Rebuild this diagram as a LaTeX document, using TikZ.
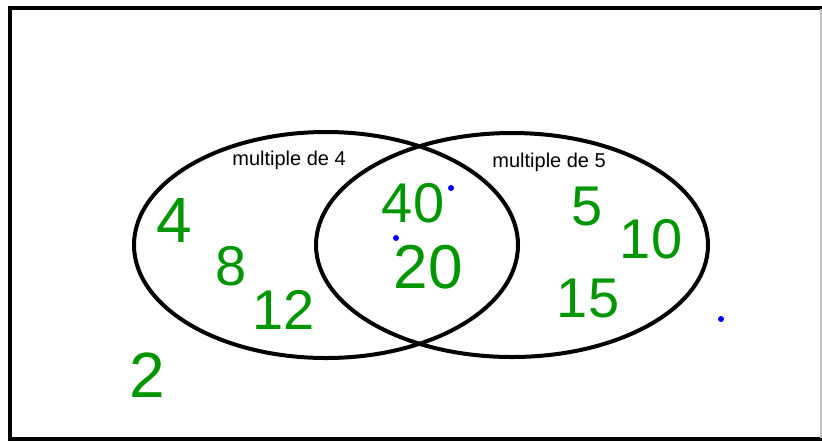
\documentclass[tikz,border=0pt]{standalone}
\usepackage{fontspec}
\setmainfont{Liberation Sans}
\usepackage{xcolor}
\usepackage{tikz}

\definecolor{hand}{RGB}{0,150,0}
\definecolor{pen}{RGB}{0,0,255}

\begin{document}
\begin{tikzpicture}[
  x=0.5pt, y=-0.5pt,
  num/.style={text=hand, inner sep=0pt, anchor=base, font=\fontsize{28}{28}\selectfont},
  lbl/.style={inner sep=0pt, anchor=base west, font=\fontsize{10}{12}\selectfont},
  dot/.style={circle, fill=pen, inner sep=0pt, minimum size=3pt},
]
  \useasboundingbox (0,0) rectangle (822,441);
  % frame
  \draw[line width=2pt] (823,8) -- (10,8) -- (10,439) -- (823,439);
  \draw[gray!50, line width=0.6pt] (821,9) -- (821,438);
  % the two sets
  \draw[line width=2pt] (326,245) ellipse [x radius=192, y radius=113];
  \draw[line width=2pt] (512,245) ellipse [x radius=196, y radius=112];
  \node[lbl] (lab4) at (232,165) {multiple de 4};
  \node[lbl] (lab5) at (492,167) {multiple de 5};
  % only multiple of 4
  \node[num, font=\fontsize{32}{32}\selectfont] (n4) at (174,242) {4};
  \node[num] (n8) at (231,285) {8};
  \node[num] (n12) at (284,329) {12};
  % both
  \node[num] (n40) at (413,222) {40};
  \node[num, font=\fontsize{31}{31}\selectfont] (n20) at (428,288) {20};
  % only multiple of 5
  \node[num] (n5) at (587,225) {5};
  \node[num] (n10) at (651,258) {10};
  \node[num] (n15) at (588,317) {15};
  % outside
  \node[num, font=\fontsize{32}{32}\selectfont] (n2) at (147,397) {2};
  % pen dots
  \node[dot] (d1) at (451,188) {};
  \node[dot] (d2) at (396,238) {};
  \node[dot] (d3) at (721,319) {};
\end{tikzpicture}
\end{document}
